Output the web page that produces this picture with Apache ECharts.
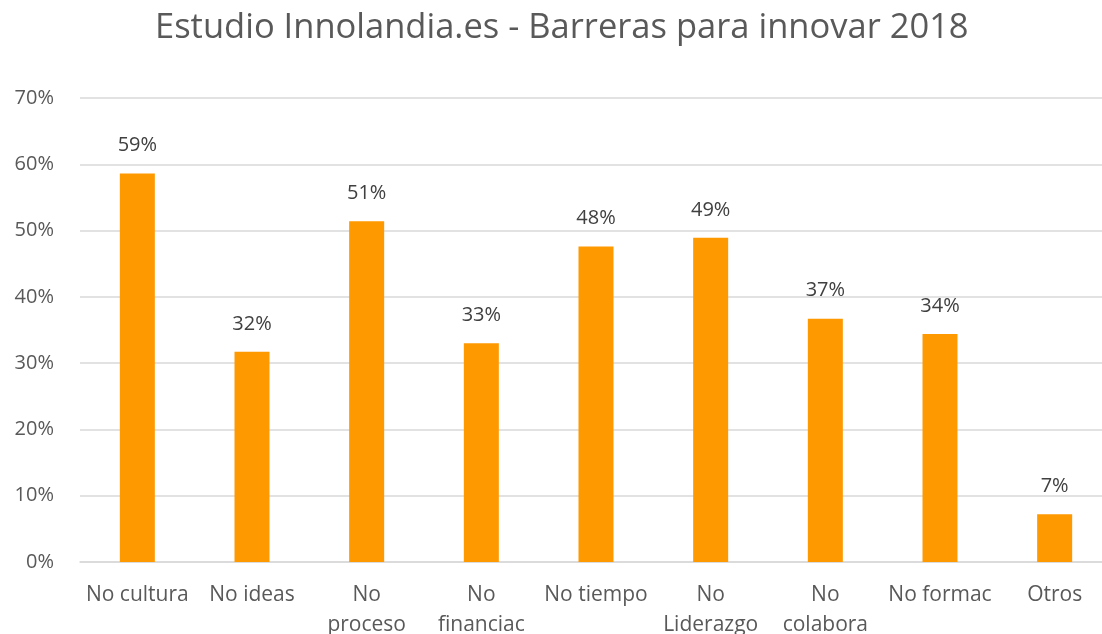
<!DOCTYPE html>
<html>
<head>
<meta charset="utf-8">
<script src="https://cdn.jsdelivr.net/npm/echarts@6/dist/echarts.min.js"></script>
<style>
html,body{margin:0;padding:0;background:#fff;}
#c{width:1102px;height:634px;}
</style>
</head>
<body>
<div id="c"></div>
<script>
const categories = ["No cultura", "No ideas", "No\nproceso", "No\nfinanciac", "No tiempo", "No\nLiderazgo", "No\ncolabora", "No formac", "Otros"];
const values = [0.586, 0.317, 0.514, 0.330, 0.476, 0.489, 0.367, 0.344, 0.072];
const yTicks = [0, 0.1, 0.2, 0.3, 0.4, 0.5, 0.6, 0.7];
const titleText = "Estudio Innolandia.es - Barreras para innovar 2018";

const font = "'Open Sans', 'Noto Sans', sans-serif";
const chart = echarts.init(document.getElementById('c'));
chart.setOption({
  animation: false,
  backgroundColor: '#fff',
  title: {
    text: titleText,
    left: 150,
    top: 6,
    textStyle: { fontFamily: font, fontSize: 34.5, fontWeight: 'normal', color: '#595959' }
  },
  grid: { left: 80, top: 98, bottom: 72, width: 1032, outerBoundsMode: 'none', containLabel: false },
  xAxis: {
    type: 'category',
    data: categories,
    axisLine: { show: true, lineStyle: { color: '#d9d9d9', width: 1.5 } },
    axisTick: { show: false },
    axisLabel: { color: '#595959', fontFamily: font, fontSize: 21, margin: 18, lineHeight: 30, interval: 0 }
  },
  yAxis: {
    type: 'value',
    min: yTicks[0],
    max: yTicks[yTicks.length - 1],
    interval: 0.1,
    axisLine: { show: false },
    axisTick: { show: false },
    splitLine: { lineStyle: { color: '#d9d9d9', width: 1.5 } },
    axisLabel: {
      color: '#595959', fontFamily: font, fontSize: 20, margin: 26,
      formatter: v => Math.round(v * 100) + '%'
    }
  },
  series: [{
    type: 'bar',
    data: values,
    barWidth: 35,
    itemStyle: { color: '#ff9900' },
    label: {
      show: true,
      position: 'top',
      distance: 18,
      color: '#404040',
      fontFamily: font,
      fontSize: 20,
      formatter: p => Math.round(p.value * 100) + '%'
    }
  }]
});
</script>
</body>
</html>
